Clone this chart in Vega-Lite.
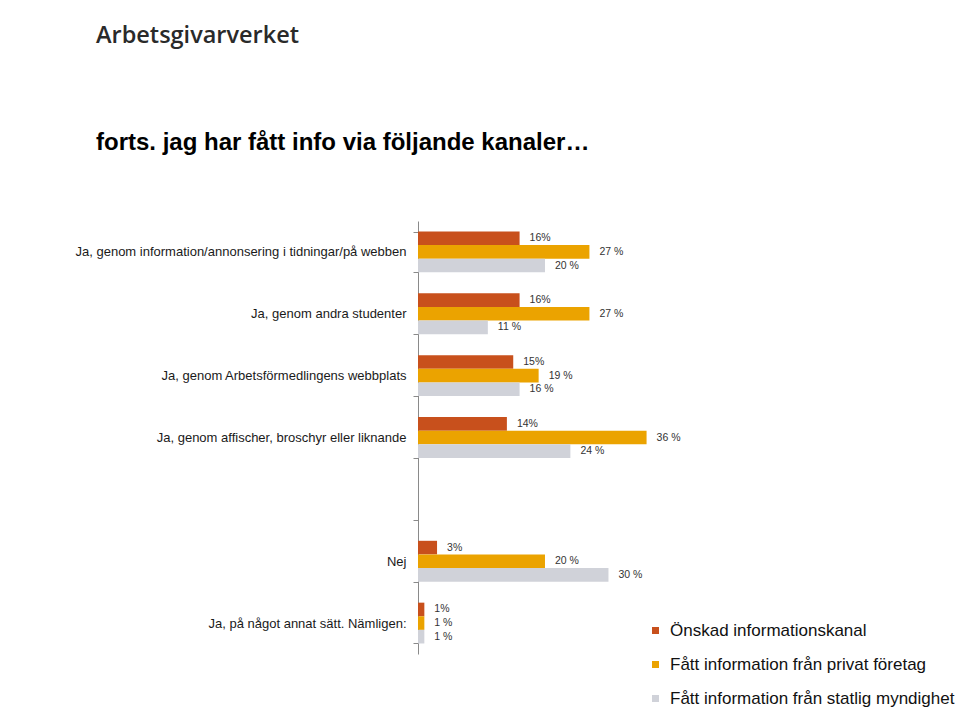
{
  "$schema": "https://vega.github.io/schema/vega-lite/v6.json",
  "autosize": "none",
  "width": 400,
  "height": 433,
  "padding": {"left": 418, "top": 221, "right": 142, "bottom": 58},
  "background": "white",
  "config": {"view": {"stroke": null}, "font": "Liberation Sans"},
  "title": {
    "text": "Arbetsgivarverket",
    "subtitle": "forts. jag har fått info via följande kanaler…",
    "anchor": "start",
    "frame": "group",
    "dx": -322,
    "offset": 60,
    "font": "Open Sans",
    "fontSize": 23.5,
    "fontWeight": 600,
    "color": "#2a2a2a",
    "subtitleFont": "Liberation Sans",
    "subtitleFontSize": 24,
    "subtitleFontWeight": "bold",
    "subtitleColor": "#000000",
    "subtitlePadding": 84
  },
  "data": {
    "values": [
      {"kategori": "Ja, genom information/annonsering i tidningar/på webben", "serie": "Önskad informationskanal", "varde": 16, "etikett": "16%"},
      {"kategori": "Ja, genom information/annonsering i tidningar/på webben", "serie": "Fått information från privat företag", "varde": 27, "etikett": "27 %"},
      {"kategori": "Ja, genom information/annonsering i tidningar/på webben", "serie": "Fått information från statlig myndighet", "varde": 20, "etikett": "20 %"},
      {"kategori": "Ja, genom andra studenter", "serie": "Önskad informationskanal", "varde": 16, "etikett": "16%"},
      {"kategori": "Ja, genom andra studenter", "serie": "Fått information från privat företag", "varde": 27, "etikett": "27 %"},
      {"kategori": "Ja, genom andra studenter", "serie": "Fått information från statlig myndighet", "varde": 11, "etikett": "11 %"},
      {"kategori": "Ja, genom Arbetsförmedlingens webbplats", "serie": "Önskad informationskanal", "varde": 15, "etikett": "15%"},
      {"kategori": "Ja, genom Arbetsförmedlingens webbplats", "serie": "Fått information från privat företag", "varde": 19, "etikett": "19 %"},
      {"kategori": "Ja, genom Arbetsförmedlingens webbplats", "serie": "Fått information från statlig myndighet", "varde": 16, "etikett": "16 %"},
      {"kategori": "Ja, genom affischer, broschyr eller liknande", "serie": "Önskad informationskanal", "varde": 14, "etikett": "14%"},
      {"kategori": "Ja, genom affischer, broschyr eller liknande", "serie": "Fått information från privat företag", "varde": 36, "etikett": "36 %"},
      {"kategori": "Ja, genom affischer, broschyr eller liknande", "serie": "Fått information från statlig myndighet", "varde": 24, "etikett": "24 %"},
      {"kategori": "Nej", "serie": "Önskad informationskanal", "varde": 3, "etikett": "3%"},
      {"kategori": "Nej", "serie": "Fått information från privat företag", "varde": 20, "etikett": "20 %"},
      {"kategori": "Nej", "serie": "Fått information från statlig myndighet", "varde": 30, "etikett": "30 %"},
      {"kategori": "Ja, på något annat sätt. Nämligen:", "serie": "Önskad informationskanal", "varde": 1, "etikett": "1%"},
      {"kategori": "Ja, på något annat sätt. Nämligen:", "serie": "Fått information från privat företag", "varde": 1, "etikett": "1 %"},
      {"kategori": "Ja, på något annat sätt. Nämligen:", "serie": "Fått information från statlig myndighet", "varde": 1, "etikett": "1 %"}
    ]
  },
  "encoding": {
    "y": {
      "field": "kategori",
      "type": "nominal",
      "scale": {
        "domain": [
          "Ja, genom information/annonsering i tidningar/på webben",
          "Ja, genom andra studenter",
          "Ja, genom Arbetsförmedlingens webbplats",
          "Ja, genom affischer, broschyr eller liknande",
          " ",
          "Nej",
          "Ja, på något annat sätt. Nämligen:"
        ],
        "paddingInner": 0.34,
        "paddingOuter": 0.17
      },
      "axis": {
        "title": null,
        "domainColor": "#8a8a8a",
        "tickColor": "#8a8a8a",
        "tickSize": 5,
        "tickBand": "extent",
        "labelFont": "Liberation Sans",
        "labelFontSize": 13,
        "labelColor": "#1a1a1a",
        "labelPadding": 7,
        "labelLimit": 0
      }
    },
    "yOffset": {
      "field": "serie",
      "type": "nominal",
      "scale": {
        "domain": ["Önskad informationskanal", "Fått information från privat företag", "Fått information från statlig myndighet"],
        "paddingInner": 0,
        "paddingOuter": 0
      }
    },
    "x": {
      "field": "varde",
      "type": "quantitative",
      "scale": {"domain": [0, 63]},
      "axis": null
    }
  },
  "layer": [
    {
      "mark": {"type": "bar"},
      "encoding": {
        "color": {
          "field": "serie",
          "type": "nominal",
          "scale": {
            "domain": ["Önskad informationskanal", "Fått information från privat företag", "Fått information från statlig myndighet"],
            "range": ["#C8501C", "#EBA300", "#D0D2D9"]
          },
          "legend": {
            "title": null,
            "orient": "none",
            "legendX": 229,
            "legendY": 401,
            "padding": 0,
            "symbolType": "square",
            "symbolSize": 49,
            "symbolStrokeWidth": 0,
            "labelFont": "Liberation Sans",
            "labelFontSize": 17,
            "labelColor": "#111111",
            "labelOffset": 6,
            "rowPadding": 16,
            "labelLimit": 0
          }
        }
      }
    },
    {
      "mark": {"type": "text", "align": "left", "baseline": "middle", "dx": 10, "fontSize": 10.5, "font": "Liberation Sans", "color": "#333333"},
      "encoding": {"text": {"field": "etikett"}}
    }
  ]
}
